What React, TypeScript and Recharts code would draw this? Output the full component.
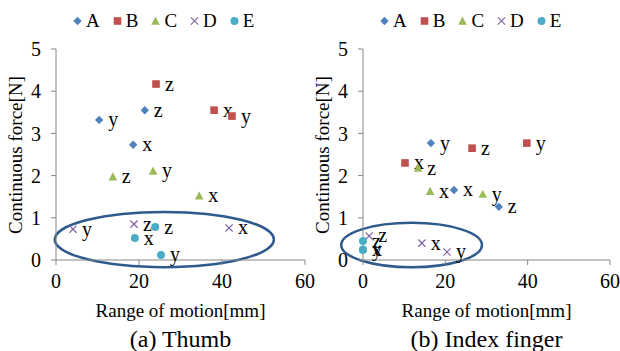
import { ReferenceArea, Scatter, ScatterChart, XAxis, YAxis } from "recharts"

const FONT = '"Liberation Serif", "Times New Roman", serif'
const AXIS = "#868686"
const RING = "#2F5A8E"

type Pt = { x: number; y: number; label: string }
type Kind = "diamond" | "square" | "triangle" | "x" | "circle"

// 凡例: 系列名・マーカー・色
const seriesNames = ["A", "B", "C", "D", "E"]
const seriesKinds: Kind[] = ["diamond", "square", "triangle", "x", "circle"]
const seriesColors = ["#4F81BD", "#C0504D", "#9BBB59", "#8064A2", "#4BACC6"]

const xTicks = [0, 20, 40, 60]
const yTicks = [0, 1, 2, 3, 4, 5]

// (a) Thumb
const thumbA: Pt[] = [
  { x: 10.4, y: 3.32, label: "y" },
  { x: 21.4, y: 3.55, label: "z" },
  { x: 18.6, y: 2.73, label: "x" },
]
const thumbB: Pt[] = [
  { x: 24.1, y: 4.17, label: "z" },
  { x: 38.1, y: 3.55, label: "x" },
  { x: 42.4, y: 3.41, label: "y" },
]
const thumbC: Pt[] = [
  { x: 13.7, y: 1.97, label: "z" },
  { x: 23.4, y: 2.11, label: "y" },
  { x: 34.5, y: 1.52, label: "x" },
]
const thumbD: Pt[] = [
  { x: 4.1, y: 0.73, label: "y" },
  { x: 18.8, y: 0.85, label: "z" },
  { x: 41.7, y: 0.76, label: "x" },
]
const thumbE: Pt[] = [
  { x: 23.9, y: 0.78, label: "z" },
  { x: 19.0, y: 0.52, label: "x" },
  { x: 25.3, y: 0.12, label: "y" },
]

// (b) Index finger
const indexA: Pt[] = [
  { x: 16.5, y: 2.77, label: "y" },
  { x: 22.1, y: 1.66, label: "x" },
  { x: 33.0, y: 1.26, label: "z" },
]
const indexB: Pt[] = [
  { x: 10.2, y: 2.3, label: "x" },
  { x: 26.5, y: 2.65, label: "z" },
  { x: 39.8, y: 2.77, label: "y" },
]
const indexC: Pt[] = [
  { x: 13.4, y: 2.18, label: "z" },
  { x: 16.3, y: 1.63, label: "x" },
  { x: 29.1, y: 1.56, label: "y" },
]
const indexD: Pt[] = [
  { x: 1.5, y: 0.57, label: "z" },
  { x: 14.3, y: 0.4, label: "x" },
  { x: 20.4, y: 0.19, label: "y" },
]
const indexE: Pt[] = [
  { x: 0, y: 0.45, label: "z" },
  { x: 0, y: 0.24, label: "x" },
  { x: 0, y: 0.24, label: "y" },
]

// 楕円の囲み (データ単位: x1, x2, y1, y2)
const thumbRing = [-0.3, 52.5, -0.17, 1.14]
const indexRing = [-5.3, 28.9, -0.17, 0.88]

function Marker({ kind, color, cx, cy }: { kind: Kind; color: string; cx: number; cy: number }) {
  switch (kind) {
    case "diamond":
      return <polygon points={`${cx},${cy - 4.2} ${cx + 4.2},${cy} ${cx},${cy + 4.2} ${cx - 4.2},${cy}`} fill={color} />
    case "square":
      return <rect x={cx - 3.8} y={cy - 3.8} width={7.6} height={7.6} fill={color} />
    case "triangle":
      return <polygon points={`${cx},${cy - 4.5} ${cx + 4.3},${cy + 3.7} ${cx - 4.3},${cy + 3.7}`} fill={color} />
    case "x":
      return (
        <g stroke={color} strokeWidth={1.2}>
          <line x1={cx - 3.6} y1={cy - 3.6} x2={cx + 3.6} y2={cy + 3.6} />
          <line x1={cx - 3.6} y1={cy + 3.6} x2={cx + 3.6} y2={cy - 3.6} />
        </g>
      )
    default:
      return <circle cx={cx} cy={cy} r={4} fill={color} />
  }
}

function makeShape(kind: Kind, color: string) {
  return (props: any) => {
    const { cx, cy, payload } = props
    return (
      <g>
        <Marker kind={kind} color={color} cx={cx} cy={cy} />
        <text x={cx + 9} y={cy + 6.5} fontSize={20} fontFamily={FONT} fill="#000">
          {payload.label}
        </text>
      </g>
    )
  }
}

function LegendRow() {
  return (
    <div style={{ position: "absolute", left: 73, top: 9, display: "flex", alignItems: "center", fontFamily: FONT, fontSize: 19, lineHeight: "24px" }}>
      {seriesNames.map((name, i) => (
        <div key={name} style={{ display: "flex", alignItems: "center", marginRight: 13 }}>
          <svg width={9} height={10} style={{ marginRight: 4 }}>
            <Marker kind={seriesKinds[i]} color={seriesColors[i]} cx={4.5} cy={5} />
          </svg>
          <span>{name}</span>
        </div>
      ))}
    </div>
  )
}

function Panel({ left, rightMargin, series, ring, caption }: {
  left: number
  rightMargin: number
  series: Pt[][]
  ring: number[]
  caption: string
}) {
  const plotLeft = 56
  const plotCenter = plotLeft + (310 - plotLeft - rightMargin) / 2
  return (
    <div style={{ position: "absolute", left, top: 0, width: 310, height: 351 }}>
      <ScatterChart width={310} height={351} margin={{ top: 49, right: rightMargin, bottom: 0, left: 0 }}>
        <XAxis
          type="number"
          dataKey="x"
          domain={[0, 60]}
          ticks={xTicks}
          interval={0}
          height={91}
          stroke={AXIS}
          tickSize={5}
          tickMargin={9}
          tick={{ fontSize: 20, fontFamily: FONT, fill: "#000" }}
        />
        <YAxis
          type="number"
          dataKey="y"
          domain={[0, 5]}
          ticks={yTicks}
          interval={0}
          width={plotLeft}
          stroke={AXIS}
          tickSize={5}
          tickMargin={10}
          tick={{ fontSize: 20, fontFamily: FONT, fill: "#000" }}
        />
        {series.map((data, i) => (
          <Scatter
            key={seriesNames[i]}
            name={seriesNames[i]}
            data={data}
            fill={seriesColors[i]}
            shape={makeShape(seriesKinds[i], seriesColors[i])}
            isAnimationActive={false}
          />
        ))}
        <ReferenceArea
          x1={ring[0]}
          x2={ring[1]}
          y1={ring[2]}
          y2={ring[3]}
          ifOverflow="visible"
          shape={(p: any) => (
            <ellipse
              cx={p.x + p.width / 2}
              cy={p.y + p.height / 2}
              rx={Math.abs(p.width) / 2}
              ry={Math.abs(p.height) / 2}
              fill="none"
              stroke={RING}
              strokeWidth={2.5}
            />
          )}
        />
      </ScatterChart>
      <LegendRow />
      <div
        style={{
          position: "absolute",
          left: 16,
          top: 155,
          transform: "translate(-50%, -50%) rotate(-90deg)",
          whiteSpace: "nowrap",
          fontFamily: FONT,
          fontSize: 19,
          lineHeight: "22px",
        }}
      >
        Continuous force[N]
      </div>
      <div style={{ position: "absolute", left: plotCenter, top: 311, transform: "translate(-50%, -50%)", whiteSpace: "nowrap", fontFamily: FONT, fontSize: 19, lineHeight: "22px" }}>
        Range of motion[mm]
      </div>
      <div style={{ position: "absolute", left: plotCenter, top: 339, transform: "translate(-50%, -50%)", whiteSpace: "nowrap", fontFamily: FONT, fontSize: 24, lineHeight: "26px" }}>
        {caption}
      </div>
    </div>
  )
}

export default function App() {
  return (
    <div style={{ position: "absolute", left: 0, top: 0, width: 620, height: 351, background: "#fff", overflow: "hidden" }}>
      <style>{`svg.recharts-surface { overflow: visible; }`}</style>
      <Panel left={0} rightMargin={5} series={[thumbA, thumbB, thumbC, thumbD, thumbE]} ring={thumbRing} caption="(a) Thumb" />
      <Panel left={307} rightMargin={7} series={[indexA, indexB, indexC, indexD, indexE]} ring={indexRing} caption="(b) Index finger" />
    </div>
  )
}
